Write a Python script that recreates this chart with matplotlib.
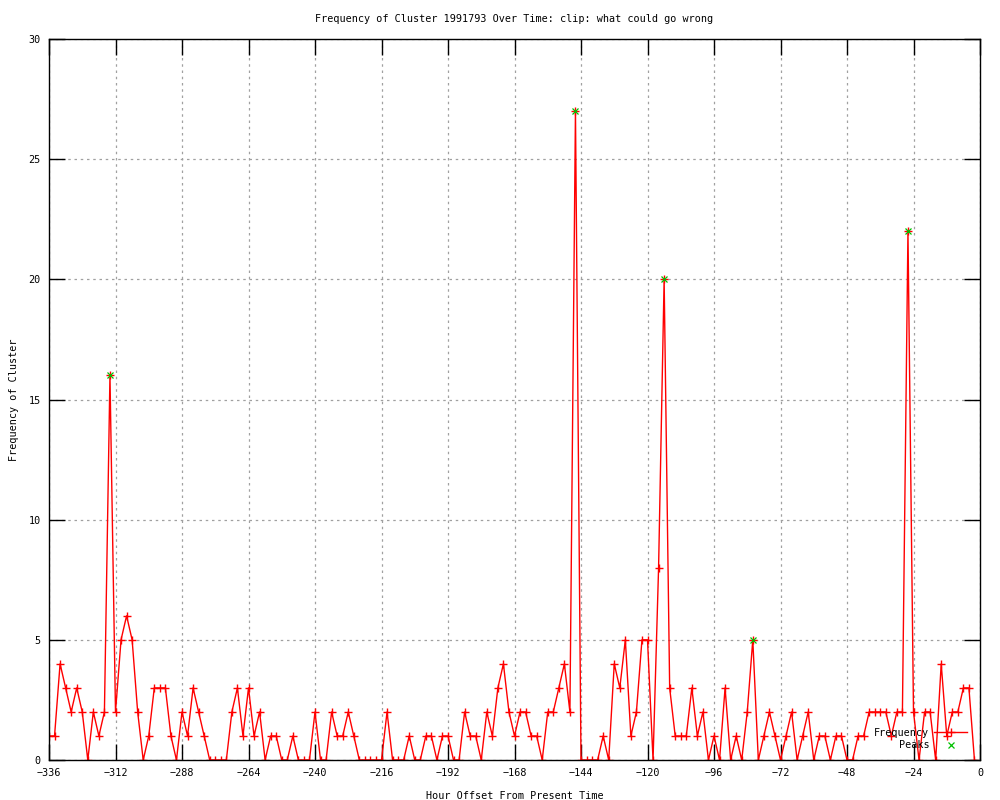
import numpy as np
import matplotlib
matplotlib.use("Agg")
import matplotlib.pyplot as plt

# hours before now, every 2 hours
hours = np.arange(-336, 0, 2)

frequency = [
    1, 1, 4, 3, 2, 3, 2, 0, 2, 1, 2, 16,
    2, 5, 6, 5, 2, 0, 1, 3, 3, 3, 1, 0,
    2, 1, 3, 2, 1, 0, 0, 0, 0, 2, 3, 1,
    3, 1, 2, 0, 1, 1, 0, 0, 1, 0, 0, 0,
    2, 0, 0, 2, 1, 1, 2, 1, 0, 0, 0, 0,
    0, 2, 0, 0, 0, 1, 0, 0, 1, 1, 0, 1,
    1, 0, 0, 2, 1, 1, 0, 2, 1, 3, 4, 2,
    1, 2, 2, 1, 1, 0, 2, 2, 3, 4, 2, 27,
    0, 0, 0, 0, 1, 0, 4, 3, 5, 1, 2, 5,
    5, 0, 8, 20, 3, 1, 1, 1, 3, 1, 2, 0,
    1, 0, 3, 0, 1, 0, 2, 5, 0, 1, 2, 1,
    0, 1, 2, 0, 1, 2, 0, 1, 1, 0, 1, 1,
    0, 0, 1, 1, 2, 2, 2, 2, 1, 2, 2, 22,
    2, 0, 2, 2, 0, 4, 1, 2, 2, 3, 3, 0,
]

peak_hours = [-314, -146, -114, -82, -26]
peak_values = [16, 27, 20, 5, 22]

x_ticks = list(range(-336, 1, 24))
y_ticks = list(range(0, 31, 5))

plt.rcParams['font.family'] = ['DejaVu Sans Mono']
fs = 7.3

fig = plt.figure(figsize=(10, 8), dpi=100)
ax = fig.add_axes([0.049, 0.05, 0.931, 0.90125])

ax.plot(hours, frequency, color='red', lw=1.0, marker='+',
        markersize=5.5, markeredgewidth=1.0, label="Frequency")
ax.plot(peak_hours, peak_values, color='#00c000', lw=0, marker='x',
        markersize=5, markeredgewidth=0.9, label="Peaks")

ax.set_xlim(-336, 0)
ax.set_ylim(0, 30)
ax.set_xticks(x_ticks)
ax.set_yticks(y_ticks)
ax.tick_params(direction='in', length=11.5, width=1, top=True, right=True,
               labelsize=fs, pad=6)
ax.grid(True, color='#a0a0a0', linestyle=(0, (2, 3)), linewidth=0.9)
for s in ax.spines.values():
    s.set_linewidth(1.0)

ax.set_title("Frequency of Cluster 1991793 Over Time: clip: what could go wrong",
             fontsize=fs, pad=12)
ax.set_xlabel("Hour Offset From Present Time", fontsize=fs, labelpad=9)
ax.set_ylabel("Frequency of Cluster", fontsize=fs, labelpad=7)

ax.legend(loc='lower right', bbox_to_anchor=(0.972, 0.056),
          bbox_transform=fig.transFigure, frameon=False, markerfirst=False,
          fontsize=fs, handlelength=3.2, handletextpad=0.5,
          labelspacing=0.25, borderpad=0)

fig.savefig("out.png", dpi=100)
